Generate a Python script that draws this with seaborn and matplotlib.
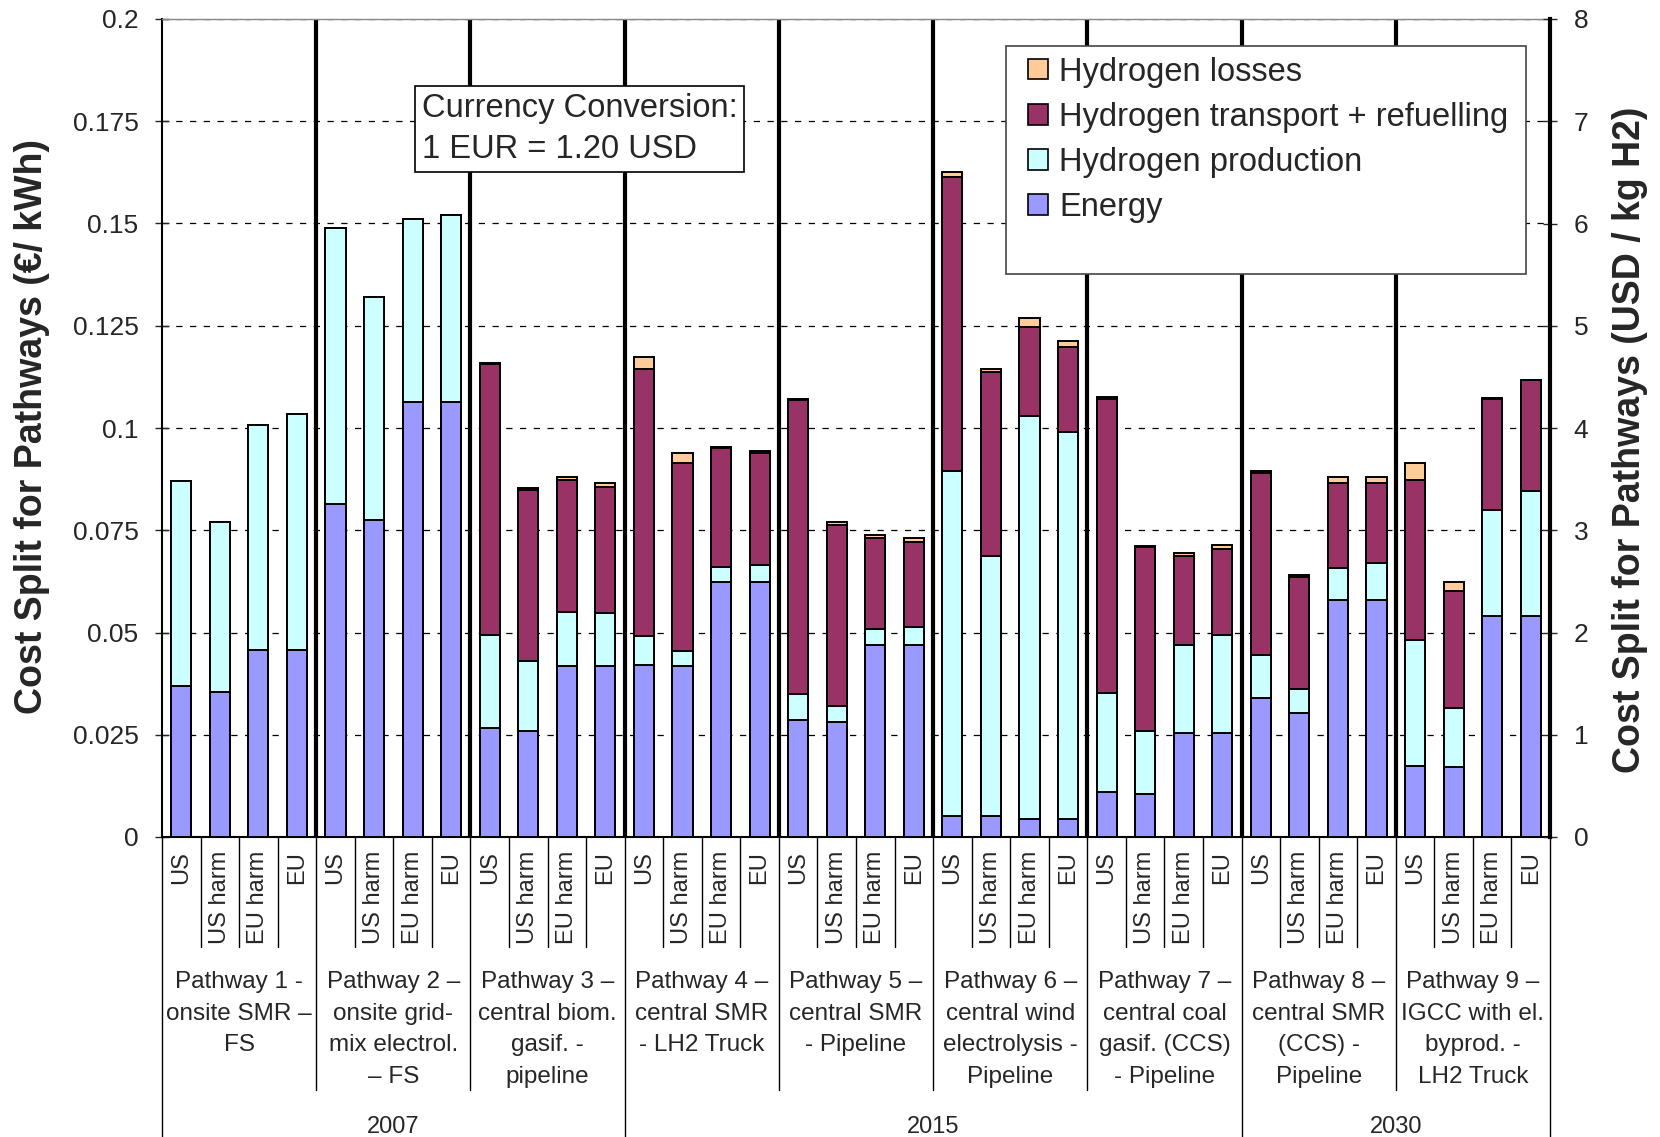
import numpy as np
import pandas as pd
import matplotlib
matplotlib.use('Agg')
import matplotlib.pyplot as plt
from matplotlib.patches import Rectangle, Patch
import seaborn as sns

# --- data (EUR / kWh) ---
sites = ['US', 'US harm', 'EU harm', 'EU']
pathways = [
    'Pathway 1 -\nonsite SMR –\nFS',
    'Pathway 2 –\nonsite grid-\nmix electrol.\n– FS',
    'Pathway 3 –\ncentral biom.\ngasif. -\npipeline',
    'Pathway 4 –\ncentral SMR\n- LH2 Truck',
    'Pathway 5 –\ncentral SMR\n- Pipeline',
    'Pathway 6 –\ncentral wind\nelectrolysis -\nPipeline',
    'Pathway 7 –\ncentral coal\ngasif. (CCS)\n- Pipeline',
    'Pathway 8 –\ncentral SMR\n(CCS) -\nPipeline',
    'Pathway 9 –\nIGCC with el.\nbyprod. -\nLH2 Truck',
]
years = ['2007', '2015', '2030']
pathways_per_year = [3, 4, 2]

energy = [0.0370, 0.0355, 0.0457, 0.0457,
          0.0815, 0.0774, 0.1064, 0.1064,
          0.0266, 0.0260, 0.0419, 0.0419,
          0.0421, 0.0419, 0.0623, 0.0623,
          0.0285, 0.0280, 0.0470, 0.0470,
          0.0051, 0.0051, 0.0043, 0.0043,
          0.0111, 0.0106, 0.0255, 0.0255,
          0.0340, 0.0302, 0.0580, 0.0580,
          0.0174, 0.0170, 0.0540, 0.0540]
production = [0.0500, 0.0415, 0.0551, 0.0577,
              0.0675, 0.0546, 0.0448, 0.0457,
              0.0229, 0.0171, 0.0132, 0.0128,
              0.0070, 0.0036, 0.0038, 0.0042,
              0.0065, 0.0041, 0.0039, 0.0043,
              0.0844, 0.0635, 0.0986, 0.0947,
              0.0242, 0.0154, 0.0215, 0.0238,
              0.0104, 0.0059, 0.0077, 0.0090,
              0.0308, 0.0145, 0.0260, 0.0306]
transport = [0.0, 0.0, 0.0, 0.0,
             0.0, 0.0, 0.0, 0.0,
             0.0661, 0.0417, 0.0321, 0.0308,
             0.0654, 0.0459, 0.0289, 0.0275,
             0.0718, 0.0443, 0.0221, 0.0208,
             0.0719, 0.0450, 0.0218, 0.0208,
             0.0717, 0.0448, 0.0216, 0.0211,
             0.0447, 0.0275, 0.0209, 0.0196,
             0.0392, 0.0287, 0.0270, 0.0272]
losses = [0.0, 0.0, 0.0, 0.0,
          0.0, 0.0, 0.0, 0.0,
          0.0004, 0.0005, 0.0009, 0.0011,
          0.0029, 0.0024, 0.0003, 0.0004,
          0.0004, 0.0006, 0.0009, 0.0009,
          0.0013, 0.0009, 0.0022, 0.0015,
          0.0005, 0.0003, 0.0009, 0.0009,
          0.0004, 0.0004, 0.0015, 0.0015,
          0.0041, 0.0022, 0.0004, 0.0]

df = pd.DataFrame({'bar': np.arange(len(energy)), 'energy': energy,
                   'production': production, 'transport': transport,
                   'losses': losses})
df['cum_prod'] = df['energy'] + df['production']
df['cum_trans'] = df['cum_prod'] + df['transport']
df['total'] = df['cum_trans'] + df['losses']

n_bars = len(df)

sns.set_style('white')
plt.rcParams['font.family'] = ['Liberation Sans', 'DejaVu Sans']

fig = plt.figure(figsize=(16.6, 11.37), dpi=100)
ax = fig.add_axes([162 / 1660, 1 - 837 / 1137, 1388 / 1660, 818 / 1137])

# stacked bars: draw cumulative totals from the top layer down
layers = [('Hydrogen losses', '#FFCC99', 'total'),
          ('Hydrogen transport + refuelling', '#993366', 'cum_trans'),
          ('Hydrogen production', '#CCFFFF', 'cum_prod'),
          ('Energy', '#9999FF', 'energy')]
for name, col, ycol in layers:
    sns.barplot(data=df, x='bar', y=ycol, color=col, saturation=1,
                edgecolor='black', linewidth=1.4, width=0.52,
                errorbar=None, ax=ax, zorder=3)

ax.set_xlim(-0.5, n_bars - 0.5)
ax.set_ylim(0, 0.2)
yt = np.arange(0, 0.2001, 0.025)
ax.set_yticks(yt)
ax.set_yticklabels(['0', '0.025', '0.05', '0.075', '0.1', '0.125', '0.15', '0.175', '0.2'])
ax.set_xticks([])
ax.set_xlabel('')
ax.set_ylabel('')
ax.tick_params(axis='y', direction='inout', length=10, width=1, labelsize=19, pad=12)

ax.yaxis.grid(True, linestyle=(0, (5, 6)), color='black', lw=0.9)
ax.set_axisbelow(True)

ax.spines['top'].set_color('#888888')
ax.spines['top'].set_linewidth(1)
ax.spines['left'].set_linewidth(1.5)
ax.spines['left'].set_color('black')
ax.spines['bottom'].set_linewidth(1.5)
ax.spines['bottom'].set_color('black')
ax.spines['right'].set_visible(False)

# thick separators between pathways inside the plot
for k in range(1, len(pathways)):
    ax.axvline(4 * k - 0.5, color='black', lw=3, zorder=2)

# multi level category axis below the plot
tr = ax.get_xaxis_transform()
year_edges = np.cumsum([0] + pathways_per_year) * 4 - 0.5
for i in range(n_bars + 1):
    x = i - 0.5
    if x in year_edges:
        y_end = -0.37
    elif i % 4 == 0:
        y_end = -0.309
    else:
        y_end = -0.1345
    ax.plot([x, x], [0, y_end], color='black', lw=1, transform=tr, clip_on=False)

for i in range(n_bars):
    ax.text(i, -0.017, sites[i % 4], rotation=90, ha='center', va='top',
            fontsize=17, transform=tr)

for k, label in enumerate(pathways):
    ax.text(4 * k + 1.5, -0.164, label, ha='center', va='top', fontsize=17.5,
            linespacing=1.56, transform=tr)

for k, yr in enumerate(years):
    ax.text((year_edges[k] + year_edges[k + 1]) / 2, -0.354, yr, ha='center',
            va='center', fontsize=17, transform=tr)

# currency note
ax.text(0.1873, 0.910, 'Currency Conversion:\n1 EUR = 1.20 USD', transform=ax.transAxes,
        ha='left', va='top', fontsize=23.5, linespacing=1.45, zorder=6,
        bbox=dict(boxstyle='square,pad=0.2', fc='white', ec='black', lw=1.2))

# legend with its larger box
ax.add_patch(Rectangle((0.608, 0.688), 0.375, 0.2795, transform=ax.transAxes,
                       fc='white', ec='#444444', lw=1.2, zorder=5))
handles = [Patch(facecolor=c, edgecolor='black', lw=1.2, label=n) for n, c, _ in layers]
leg = ax.legend(handles=handles, loc='upper left', bbox_to_anchor=(0.624, 0.954),
                frameon=False, fontsize=23.5, handlelength=0.6, handleheight=0.6,
                handletextpad=0.35, labelspacing=0.43, borderpad=0, borderaxespad=0)
leg.set_zorder(6)

# secondary axis in USD / kg H2
ax2 = ax.twinx()
ax2.set_ylim(0, 8)
ax2.set_yticks(range(0, 9))
ax2.tick_params(axis='y', direction='inout', length=10, width=1, labelsize=19, pad=12)
for s in ['top', 'left', 'bottom']:
    ax2.spines[s].set_visible(False)
ax2.spines['right'].set_linewidth(3)
ax2.spines['right'].set_color('black')

fig.text(32 / 1660, 1 - 426 / 1137, 'Cost Split for Pathways (€/ kWh)', rotation=90,
         ha='center', va='center', fontsize=27, fontweight='bold')
fig.text(1630 / 1660, 1 - 440 / 1137, 'Cost Split for Pathways (USD / kg H2)', rotation=90,
         ha='center', va='center', fontsize=27, fontweight='bold')

fig.savefig('out.png', dpi=100)
